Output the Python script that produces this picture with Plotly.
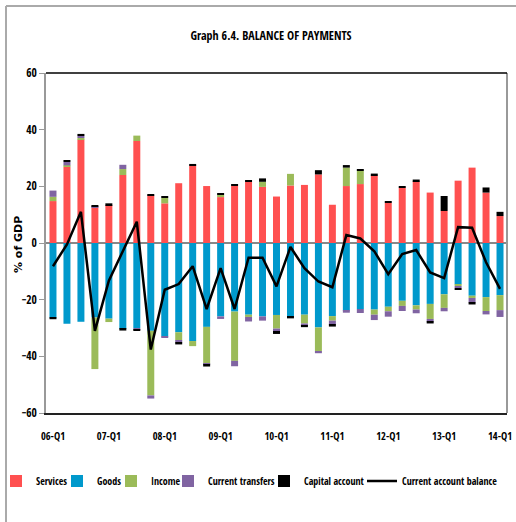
import plotly.graph_objects as go

years = ["06", "07", "08", "09", "10", "11", "12", "13"]
quarters = [f"{y}-Q{q}" for y in years for q in range(1, 5)] + ["14-Q1"]
tick_labels = [f"{y}-Q1" for y in years] + ["14-Q1"]

services = [14.8, 26.9, 36.5, 12.6, 13.4, 24.0, 36.0, 16.8, 14.0, 21.1, 27.3,
            20.1, 16.2, 20.2, 21.6, 19.8, 16.4, 20.3, 20.5, 24.2, 13.5, 20.1,
            20.8, 23.8, 14.2, 19.5, 21.8, 17.8, 11.3, 22.0, 26.6, 17.8, 9.5]
goods = [-26.3, -28.5, -27.8, -26.3, -26.7, -30.3, -30.0, -31.0, -33.0, -31.5, -34.6,
         -29.6, -25.9, -24.2, -25.3, -25.9, -25.4, -26.0, -25.3, -29.8, -25.8, -23.9,
         -23.3, -23.5, -22.5, -20.4, -22.0, -21.5, -18.1, -14.6, -18.6, -19.1, -18.4]
income_pos = [1.5, 0.5, 0.6, 0, 0, 2.1, 1.9, 0, 1.9, 0, 0,
              0, 0.8, 0, 0, 1.8, 0, 4.1, 0, 0, 0, 6.5,
              4.7, 0, 0, 0, 0, 0, 0, 0, 0, 0, 0]
income_neg = [0, 0, 0, -18.2, -1.2, 0, 0, -22.8, 0, -2.9, -1.8,
              -13.1, 0, -17.4, -0.8, 0, -4.8, 0, -3.1, -8.4, -1.6, 0,
              0, -1.8, -1.6, -1.8, -1.5, -5.3, -4.8, -0.6, -0.8, -4.9, -5.3]
transfers_pos = [2.2, 1.2, 0.7, 0.4, 0, 1.5, 0, 0, 0, 0, 0,
                 0, 0, 0, 0, 0, 0, 0, 0, 0, 0, 0,
                 0, 0, 0, 0, 0, 0, 0, 0, 0, 0, 0]
transfers_neg = [0, 0, 0, 0, 0, 0, -0.5, -1.1, -0.5, -0.7, 0,
                 -0.3, -0.9, -1.9, -1.6, -1.5, -1.2, 0, -0.8, -0.7, -1.4, -0.7,
                 -1.4, -1.9, -1.9, -1.8, -1.3, -0.9, -1.2, -0.7, -1.6, -1.2, -2.4]
capital_pos = [0, 0.7, 0.7, 0.4, 0.6, 0, 0, 0.5, 0.7, 0, 0.6,
               0, 0.6, 0.6, 0.6, 1.2, 0, 0, 0, 1.5, 0, 0.9,
               0.6, 0.7, 0.6, 0.6, 0.6, 0, 5.3, 0, 0, 1.8, 1.5]
capital_neg = [-0.6, 0, 0, 0, 0, -0.6, -0.5, 0, 0, -0.7, 0,
               -0.6, 0, 0, 0, 0, -0.7, -0.6, -0.5, 0, -0.7, 0,
               0, 0, 0, 0, 0, -0.7, 0, -0.6, -0.7, 0, 0]
ca_balance = [-8.2, -0.5, 11.0, -31.0, -13.3, -3.0, 7.5, -37.6, -16.5, -14.5, -8.2,
              -23.3, -8.9, -23.3, -5.2, -5.2, -15.3, -1.4, -8.9, -13.6, -15.6, 2.8,
              1.6, -2.9, -11.0, -3.9, -2.5, -10.4, -12.4, 5.6, 5.4, -6.8, -16.2]

C_SERV = "#FF5050"
C_GOODS = "#0099CC"
C_INC = "#9BBB59"
C_TRF = "#8064A2"
C_CAP = "#000000"

FONT = "Open Sans Condensed, Roboto Condensed, sans-serif"

fig = go.Figure()

def bar(name, vals, color, show, lw=None):
    kw = dict(legendwidth=lw) if lw is not None else {}
    fig.add_trace(go.Bar(
        x=quarters, y=vals, name=name, marker_color=color,
        marker_line_width=0, showlegend=show, legendgroup=name, **kw,
    ))

bar("Services", services, C_SERV, True, 16)
bar("Goods", goods, C_GOODS, True, 9)
bar("Income", income_pos, C_INC, True, 12)
bar("Income", income_neg, C_INC, False)
bar("Current transfers", transfers_pos, C_TRF, True, 51)
bar("Current transfers", transfers_neg, C_TRF, False)
bar("Capital account", capital_pos, C_CAP, True, 53)
bar("Capital account", capital_neg, C_CAP, False)

fig.add_trace(go.Scatter(
    x=quarters, y=ca_balance, name="Current account balance", mode="lines",
    line=dict(color="black", width=2.5), legendwidth=95,
))

W, H = 516, 522
L, R, T, B = 46, 9, 73, 109
PW, PH = W - L - R, H - T - B

def px_x(p):
    return (p - L) / PW

def px_y(p):
    return (T + PH - p) / PH

fig.update_layout(
    width=W, height=H,
    barmode="relative", bargap=0.5,
    plot_bgcolor="white", paper_bgcolor="white",
    margin=dict(l=L, r=R, t=T, b=B, autoexpand=False),
    font=dict(family=FONT, size=11, color="black"),
    title=dict(text="Graph 6.4. BALANCE OF PAYMENTS", x=271 / W, xanchor="center",
               y=1 - 36 / H, yanchor="middle", font=dict(family=FONT, size=12, color="black")),
    legend=dict(orientation="h", x=px_x(-4), xanchor="left", y=px_y(481),
                yanchor="middle", font=dict(family=FONT, size=10, color="black"),
                traceorder="normal", itemwidth=30, tracegroupgap=0, bgcolor="rgba(0,0,0,0)"),
    showlegend=True,
)

fig.update_xaxes(
    type="category", categoryorder="array", categoryarray=quarters,
    tickmode="array", tickvals=tick_labels, ticktext=tick_labels,
    showline=True, linecolor="#222222", linewidth=1.5,
    showgrid=False, ticks="outside", ticklen=13, tickcolor="rgba(0,0,0,0)",
    tickfont=dict(family=FONT, size=10.5, color="black"),
    range=[-0.5, len(quarters) - 0.5],
)
fig.update_yaxes(
    range=[-60, 60], tickvals=[-60, -40, -20, 0, 20, 40, 60],
    showgrid=False, zeroline=True, zerolinecolor="#888888", zerolinewidth=1.5,
    showline=True, linecolor="#999999", linewidth=1.5,
    ticks="outside", ticklen=5, tickcolor="#999999",
    tickfont=dict(family=FONT, size=11.5, color="black"),
)

# y-axis title
fig.add_annotation(xref="paper", yref="paper", x=px_x(18), y=px_y(245), textangle=-90,
                   text="<b>% of GDP</b>", showarrow=False, xanchor="center", yanchor="middle",
                   font=dict(family="DejaVu Sans, sans-serif", size=11, color="black"))

# right border of plot area (gray)
fig.add_shape(type="line", xref="paper", yref="paper", x0=1, x1=1, y0=0, y1=1,
              line=dict(color="#999999", width=2))
# top plot border black
fig.add_shape(type="line", xref="paper", yref="paper", x0=0, x1=1, y0=1, y1=1,
              line=dict(color="black", width=1.5))
# outer chart frame (top and left, light gray)
fig.add_shape(type="line", xref="paper", yref="paper",
              x0=px_x(6), x1=px_x(W + 5), y0=px_y(6), y1=px_y(6),
              line=dict(color="#AAAAAA", width=2))
fig.add_shape(type="line", xref="paper", yref="paper",
              x0=px_x(6), x1=px_x(6), y0=px_y(6), y1=px_y(H + 5),
              line=dict(color="#AAAAAA", width=2))

fig.write_html("out.html", config={"displayModeBar": False},
               post_script="document.body.style.margin='0';")
